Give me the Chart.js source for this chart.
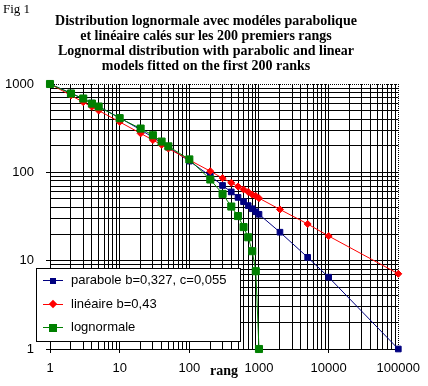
<!DOCTYPE html>
<html>
<head>
<meta charset="utf-8">
<script src="https://cdn.jsdelivr.net/npm/chart.js@4"></script>
<style>
  body { margin: 0; background: #fff; }
  #cadre { position: relative; width: 428px; height: 386px; overflow: hidden; }
  #graphique { position: absolute; left: 0; top: 0; }
  .serif { position: absolute; font-family: "Liberation Serif", "Times New Roman", serif; color: #000; white-space: pre; }
  #fig { left: 3px; top: 1px; font-size: 13px; }
  #titre { left: 0; top: 13px; width: 412px; text-align: center; font-size: 14px; font-weight: bold; line-height: 15px; }
  #axeX { left: 210px; top: 363px; font-size: 14px; font-weight: bold; }
  #legende { position: absolute; left: 36px; top: 268px; width: 203px; height: 72px; background: #fff; border: 1px solid #000; font-family: "Liberation Sans", Arial, sans-serif; font-size: 13px; }
  .ligne { position: absolute; left: 6px; width: 20px; height: 1px; }
  .marque { position: absolute; }
  .texte { position: absolute; left: 34px; white-space: pre; }
</style>
</head>
<body>
<div id="cadre">
  <canvas id="graphique" width="428" height="386"></canvas>
  <div id="fig" class="serif">Fig 1</div>
  <div id="titre" class="serif">Distribution lognormale avec modéles parabolique
et linéaire calés sur les 200 premiers rangs
Lognormal distribution with parabolic and linear
models fitted on the first 200 ranks</div>
  <div id="axeX" class="serif">rang</div>
  <div id="legende"></div>
</div>
<script>
// rangs (axe x) et valeurs
const rangsModeles = [1, 2, 3, 4, 5, 10, 20, 30, 40, 50, 100, 200, 300, 400, 500, 600, 700, 800, 900, 1000, 2000, 5000, 10000, 100000];
const valeursParabole = [1000, 788, 678, 607, 555, 415, 303, 249, 216, 193, 134, 91, 71, 60, 52, 46.5, 42, 38.7, 35.8, 33.5, 21, 10.9, 6.5, 1];
const valeursLineaire = [1000, 742, 623, 551, 500, 372, 276, 232, 205, 186, 138, 103, 86, 76, 69, 64, 60, 56, 54, 51, 38, 26, 19, 7.1];
const rangsLognormale = [1, 2, 3, 4, 5, 10, 20, 30, 40, 50, 100, 200, 300, 400, 500, 600, 700, 800, 900, 1000];
const valeursLognormale = [1000, 780, 685, 600, 556, 410, 313, 263, 223, 197, 140, 83, 57, 41, 32, 24, 18.4, 12.8, 7.6, 1];

const nomsSeries = ["parabole b=0,327, c=0,055", "linéaire b=0,43", "lognormale"];
const couleursSeries = ["#000080", "#FF0000", "#008000"];
const etiquettesX = ["1", "10", "100", "1000", "10000", "100000"];
const etiquettesY = ["1", "10", "100", "1000"];

// Utilitaire : valeurs 1..9 x 10^n pour le quadrillage log
function valeursGrille(nbDecades) {
  const v = [];
  for (let e = 0; e < nbDecades; e++) {
    for (let d = 1; d <= 9; d++) v.push(d * Math.pow(10, e));
  }
  v.push(Math.pow(10, nbDecades));
  return v;
}

function estPuissance10(v) {
  const l = Math.log10(v);
  return Math.abs(l - Math.round(l)) < 1e-9;
}

function points(xs, ys) {
  return xs.map((x, i) => ({ x: x, y: ys[i] }));
}

function axeLog(min, max, etiquettes, position) {
  const nbDecades = Math.round(Math.log10(max / min));
  return {
    type: "logarithmic",
    position: position,
    min: min,
    max: max,
    afterBuildTicks: (scale) => {
      scale.ticks = valeursGrille(nbDecades).map((v) => ({ value: v }));
    },
    afterFit: (scale) => {
      if (position === "left") scale.width = 50;
      else scale.height = 37;
    },
    ticks: {
      autoSkip: false,
      maxRotation: 0,
      color: "#000",
      padding: position === "left" ? 12 : 8,
      font: { family: "'Liberation Sans', Arial, sans-serif", size: 13 },
      callback: function (value) {
        if (!estPuissance10(value)) return "";
        return etiquettes[Math.round(Math.log10(value))];
      },
    },
    grid: {
      color: (ctx) => (ctx.tick && ctx.tick.value === max ? "rgba(0,0,0,0)" : "#000"),
      lineWidth: 1,
      tickLength: 4,
      tickColor: (ctx) => (ctx.tick && estPuissance10(ctx.tick.value) && ctx.tick.value !== max ? "#000" : "rgba(0,0,0,0)"),
    },
    border: { color: "#000", width: 1 },
  };
}

// bord pointillé en haut et à droite de la zone de tracé
const bordPointille = {
  id: "bordPointille",
  beforeDatasetsDraw(chart) {
    const a = chart.chartArea;
    const ctx = chart.ctx;
    ctx.save();
    ctx.strokeStyle = "#000";
    ctx.lineWidth = 1;
    ctx.setLineDash([1, 1]);
    ctx.beginPath();
    ctx.moveTo(a.left, Math.round(a.top) + 0.5);
    ctx.lineTo(a.right, Math.round(a.top) + 0.5);
    ctx.moveTo(Math.round(a.right) + 0.5, a.top);
    ctx.lineTo(Math.round(a.right) + 0.5, a.bottom);
    ctx.stroke();
    ctx.restore();
  },
};

const serie = (i, data, style, rayon, ordre) => ({
  label: nomsSeries[i],
  data: data,
  borderColor: couleursSeries[i],
  backgroundColor: couleursSeries[i],
  borderWidth: 1,
  pointStyle: style,
  pointRadius: rayon,
  pointBorderWidth: 1,
  tension: 0,
  clip: false,
  order: ordre,
});

new Chart(document.getElementById("graphique").getContext("2d"), {
  type: "line",
  data: {
    datasets: [
      serie(0, points(rangsModeles, valeursParabole), "rect", 4, 3),
      serie(1, points(rangsModeles, valeursLineaire), "rectRot", 3.5, 2),
      serie(2, points(rangsLognormale, valeursLognormale), "rect", 5, 1),
    ],
  },
  options: {
    responsive: false,
    animation: false,
    devicePixelRatio: 1,
    layout: { padding: { top: 84, right: 26, left: 0, bottom: 0 } },
    scales: {
      x: axeLog(1, 100000, etiquettesX, "bottom"),
      y: axeLog(1, 1000, etiquettesY, "left"),
    },
    plugins: {
      legend: { display: false },
      tooltip: { enabled: false },
      title: { display: false },
    },
  },
  plugins: [bordPointille],
});

// légende construite à partir des séries
const legende = document.getElementById("legende");
const marques = [
  { taille: 6, rot: false },
  { taille: 6, rot: true },
  { taille: 8, rot: false },
];
nomsSeries.forEach((nom, i) => {
  const yc = 11 + i * 23.5;
  const ligne = document.createElement("div");
  ligne.className = "ligne";
  ligne.style.top = yc + "px";
  ligne.style.background = couleursSeries[i];
  const m = document.createElement("div");
  const t = marques[i].taille;
  m.className = "marque";
  m.style.width = t + "px";
  m.style.height = t + "px";
  m.style.left = 16 - t / 2 + "px";
  m.style.top = yc - t / 2 + 0.5 + "px";
  m.style.background = couleursSeries[i];
  if (marques[i].rot) m.style.transform = "rotate(45deg)";
  const texte = document.createElement("div");
  texte.className = "texte";
  texte.style.top = yc - 8 + "px";
  texte.textContent = nom;
  legende.append(ligne, m, texte);
});
</script>
</body>
</html>
